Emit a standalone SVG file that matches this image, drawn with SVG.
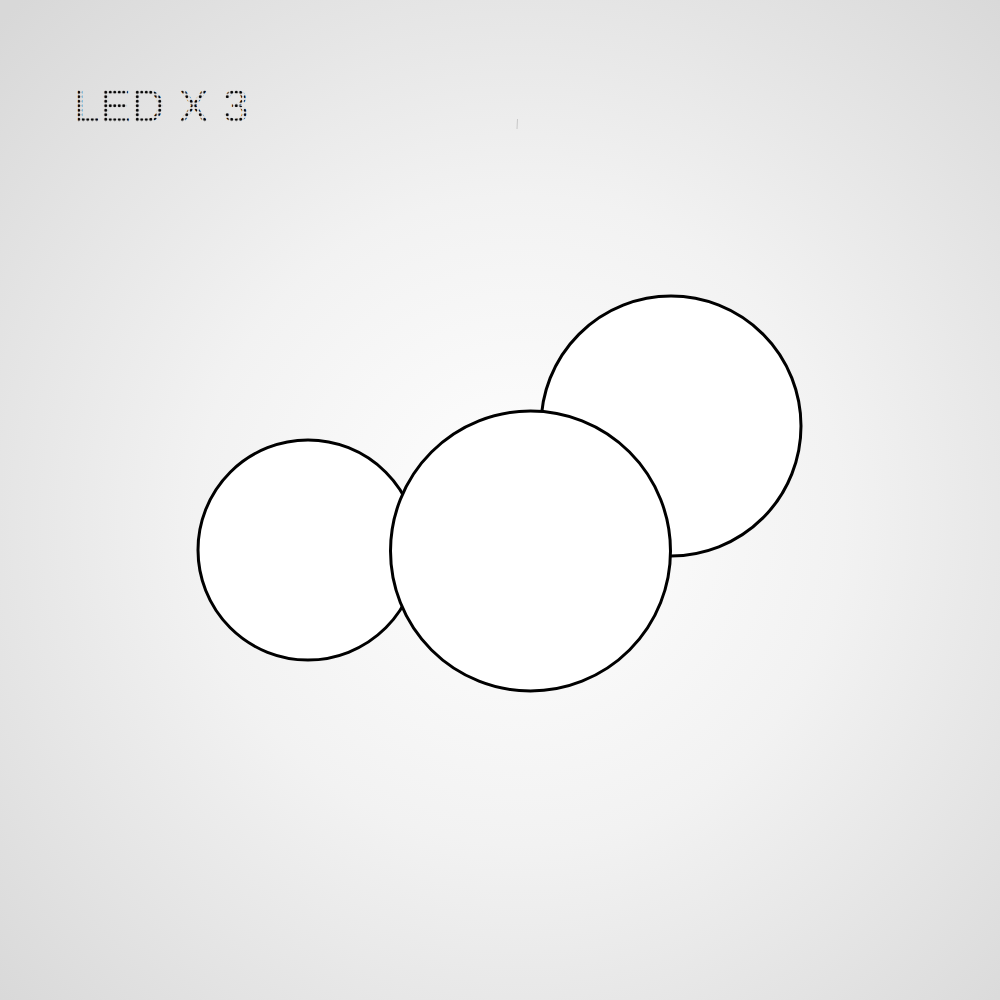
<svg xmlns="http://www.w3.org/2000/svg" width="1000" height="1000" viewBox="0 0 1000 1000">
<defs>
<radialGradient id="bg" cx="520" cy="520" r="720" gradientUnits="userSpaceOnUse">
<stop offset="0" stop-color="#ffffff"/>
<stop offset="0.45" stop-color="#f2f2f2"/>
<stop offset="1" stop-color="#d8d8d8"/>
</radialGradient>
<pattern id="dots" x="0" y="0" width="4.5" height="4.5" patternUnits="userSpaceOnUse">
<circle cx="2.25" cy="2.25" r="1.5" fill="#000"/>
</pattern>
</defs>
<style>
.disc{fill:#ffffff;stroke:#000;stroke-width:3}
</style>
<rect width="1000" height="1000" fill="url(#bg)"/>
<text id="label" x="74" y="122" font-family="'Liberation Sans', Arial, sans-serif" font-size="46" fill="url(#dots)" letter-spacing="0.5">LED X 3</text>
<line x1="517.5" y1="119" x2="517" y2="129" stroke="#c8c8c8" stroke-width="1"/>
<g id="circle-right"><circle class="disc" cx="671" cy="426" r="130"/></g>
<g id="circle-left"><circle class="disc" cx="308" cy="550" r="110"/></g>
<g id="circle-middle"><circle class="disc" cx="530.5" cy="551" r="140"/></g>
<g id="connectors"></g>
</svg>
